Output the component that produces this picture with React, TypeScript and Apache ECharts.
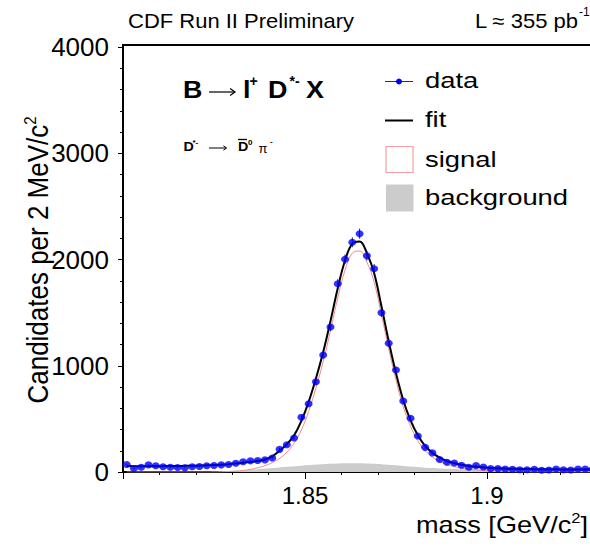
import React, { useEffect, useRef } from "react";
import * as echarts from "echarts";

const binCenters = [
  1.801, 1.803, 1.805, 1.807, 1.809, 1.811, 1.813, 1.815, 1.817, 1.819,
  1.821, 1.823, 1.825, 1.827, 1.829, 1.831, 1.833, 1.835, 1.837, 1.839,
  1.841, 1.843, 1.845, 1.847, 1.849, 1.851, 1.853, 1.855, 1.857, 1.859,
  1.861, 1.863, 1.865, 1.867, 1.869, 1.871, 1.873, 1.875, 1.877, 1.879,
  1.881, 1.883, 1.885, 1.887, 1.889, 1.891, 1.893, 1.895, 1.897, 1.899,
  1.901, 1.903, 1.905, 1.907, 1.909, 1.911, 1.913, 1.915, 1.917, 1.919,
  1.921, 1.923, 1.925, 1.927, 1.929,
];

const dataCounts = [
  70, 33, 45, 67, 58, 49, 45, 42, 39, 49,
  52, 58, 61, 67, 70, 83, 96, 105, 108, 114,
  131, 213, 256, 320, 515, 643, 850, 1101, 1365, 1772,
  2002, 2162, 2243, 2036, 1913, 1499, 1211, 960, 668, 505,
  339, 232, 180, 118, 91, 85, 63, 44, 60, 47,
  32, 32, 29, 26, 22, 22, 26, 16, 19, 29,
  22, 19, 29, 29, 25,
];

const fitValues = [
  56, 55, 55, 55, 55, 55, 56, 57, 58, 59,
  61, 63, 65, 69, 74, 80, 87, 95, 104, 118,
  148, 200, 262, 345, 480, 660, 880, 1130, 1420, 1730,
  1990, 2150, 2170, 2060, 1870, 1560, 1230, 930, 675, 485,
  345, 245, 180, 135, 104, 83, 68, 57, 49, 43,
  38, 35, 32, 30, 29, 28, 27, 26, 25, 25,
  24, 24, 24, 24, 24,
];

const signalValues = [
  0, 0, 0, 0, 0, 0, 0, 0, 0, 0,
  0, 0, 0, 1, 3, 7, 14, 25, 40, 60,
  88, 128, 185, 270, 395, 570, 790, 1040, 1330, 1640,
  1900, 2060, 2080, 1975, 1785, 1480, 1160, 865, 615, 430,
  295, 200, 140, 98, 70, 50, 36, 26, 19, 14,
  10, 7, 5, 3, 2, 1, 0, 0, 0, 0,
  0, 0, 0, 0, 0,
];

const backgroundValues = [
  0, 0, 0, 0, 0, 0, 0, 0, 0, 0,
  0, 0, 2, 5, 9, 13, 17, 22, 27, 32,
  37, 43, 49, 55, 60, 65, 70, 74, 77, 80,
  82, 83, 83, 81, 78, 74, 69, 63, 57, 51,
  46, 41, 37, 33, 30, 28, 26, 25, 24, 24,
  23, 23, 23, 23, 22, 22, 22, 22, 22, 22,
  22, 22, 22, 22, 22,
];

const xTickValues = [1.85, 1.9];
const xTickLabels = ["1.85", "1.9"];
const yTickLabels = ["0", "1000", "2000", "3000", "4000"];

const FONT = "'Liberation Sans', Arial, Helvetica, sans-serif";

function txt(
  text: string,
  x: number,
  y: number,
  fontSize: number,
  opts: { bold?: boolean; align?: string; scaleX?: number; family?: string } = {}
) {
  const align = opts.align || "left";
  return {
    type: "text",
    x,
    y,
    scaleX: opts.scaleX ?? 1,
    style: {
      text,
      fontSize,
      fontFamily: opts.family || FONT,
      fontWeight: opts.bold ? "bold" : "normal",
      fill: "#000",
      align,
      verticalAlign: "middle",
      textAlign: align,
      textVerticalAlign: "middle",
    },
    z: 20,
  };
}

function arrow(x1: number, x2: number, y: number, head: number, w: number) {
  return [
    { type: "line", shape: { x1, y1: y, x2, y2: y }, style: { stroke: "#000", lineWidth: w }, z: 20 },
    {
      type: "polyline",
      shape: { points: [[x2 - head * 1.4, y - head], [x2, y], [x2 - head * 1.4, y + head]] },
      style: { stroke: "#000", lineWidth: w, fill: "none" },
      z: 20,
    },
  ];
}

export default function App() {
  const ref = useRef<HTMLDivElement>(null);

  useEffect(() => {
    if (!ref.current) return;
    const chart = echarts.init(ref.current, undefined, { renderer: "svg" });

    const pts = (vals: number[]) => binCenters.map((x, i) => [x, vals[i]]);
    const errData = binCenters.map((x, i) => [x, dataCounts[i], Math.sqrt(dataCounts[i])]);

    const option: any = {
      animation: false,
      grid: {
        left: 123,
        top: 47,
        width: 546,
        height: 425,
        show: false,
        containLabel: false,
        outerBoundsMode: "none",
      },
      xAxis: {
        type: "value",
        min: 1.8,
        max: 1.95,
        interval: 0.05,
        axisLine: { show: true, onZero: false, lineStyle: { color: "#000", width: 2 } },
        axisTick: { show: true, inside: false, length: 7, lineStyle: { color: "#000", width: 1 } },
        minorTick: { show: true, splitNumber: 5, length: 3, lineStyle: { color: "#000", width: 1 } },
        splitLine: { show: false },
        minorSplitLine: { show: false },
        axisLabel: {
          formatter: (v: number) => {
            const i = xTickValues.findIndex((t) => Math.abs(t - v) < 1e-6);
            return i >= 0 ? xTickLabels[i] : "";
          },
          fontSize: 24,
          color: "#000",
          fontFamily: FONT,
          margin: 11,
        },
      },
      yAxis: {
        type: "value",
        min: 0,
        max: 4000,
        interval: 1000,
        axisLine: { show: true, onZero: false, lineStyle: { color: "#000", width: 2 } },
        axisTick: { show: true, inside: false, length: 5, lineStyle: { color: "#000", width: 1 } },
        minorTick: { show: true, splitNumber: 5, length: 3, lineStyle: { color: "#000", width: 1 } },
        splitLine: { show: false },
        minorSplitLine: { show: false },
        axisLabel: {
          formatter: (v: number) => (yTickLabels.includes(String(v)) ? String(v) : ""),
          fontSize: 26,
          color: "#000",
          fontFamily: FONT,
          margin: 14,
        },
      },
      series: [
        {
          name: "background",
          type: "line",
          data: pts(backgroundValues),
          smooth: 0.4,
          symbol: "none",
          lineStyle: { width: 0 },
          areaStyle: { color: "#cccccc", opacity: 1 },
          z: 1,
        },
        {
          name: "signal",
          type: "line",
          data: pts(signalValues),
          smooth: 0.4,
          symbol: "none",
          lineStyle: { color: "#f08a8a", width: 1 },
          z: 2,
        },
        {
          name: "fit",
          type: "line",
          data: pts(fitValues),
          smooth: 0.4,
          symbol: "none",
          lineStyle: { color: "#000", width: 2 },
          z: 3,
        },
        {
          name: "errors",
          type: "custom",
          data: errData,
          encode: { x: 0, y: 1 },
          renderItem: (_p: any, api: any) => {
            const x = api.value(0);
            const y = api.value(1);
            const e = api.value(2);
            const a = api.coord([x, y + e]);
            const b = api.coord([x, y - e]);
            return {
              type: "line",
              shape: { x1: a[0], y1: a[1], x2: b[0], y2: b[1] },
              style: { stroke: "#222", lineWidth: 1 },
            };
          },
          z: 4,
        },
        {
          name: "data",
          type: "scatter",
          data: pts(dataCounts),
          symbol: "circle",
          symbolSize: [8, 7],
          itemStyle: { color: "#0000ff" },
          z: 5,
        },
      ],
      graphic: [
        // frame top
        { type: "line", shape: { x1: 122, y1: 45, x2: 590, y2: 45 }, style: { stroke: "#000", lineWidth: 2 }, z: 10 },
        { type: "line", shape: { x1: 123, y1: 44, x2: 123, y2: 48 }, style: { stroke: "#000", lineWidth: 2 }, z: 10 },
        // header
        txt("CDF Run II Preliminary", 128, 21, 20, { scaleX: 1.1 }),
        txt("L ≈ 355 pb", 578, 21, 20, { scaleX: 1.1, align: "right" }),
        txt("-1", 579, 12, 12),
        // decay title
        txt("B", 183, 90, 24, { bold: true, scaleX: 1.12 }),
        ...arrow(209, 235, 92, 3.5, 1.2),
        txt("l", 243, 90, 24, { bold: true, scaleX: 1.12 }),
        txt("+", 249.5, 81, 14, { bold: true }),
        txt("D", 268, 90, 24, { bold: true, scaleX: 1.12 }),
        txt("*-", 289.5, 81, 14, { bold: true }),
        txt("X", 306, 90, 24, { bold: true, scaleX: 1.12 }),
        // small decay
        txt("D", 183.5, 147, 13, { bold: true, scaleX: 1.1 }),
        txt("*-", 192.5, 142, 8, { bold: true }),
        ...arrow(209, 226.5, 148, 2.2, 1),
        txt("D", 238, 147, 13, { bold: true, scaleX: 1.1 }),
        { type: "line", shape: { x1: 238, y1: 139.5, x2: 247, y2: 139.5 }, style: { stroke: "#000", lineWidth: 1.3 }, z: 20 },
        txt("0", 248, 142, 8, { bold: true }),
        txt("π", 258.5, 148, 13),
        txt("-", 270, 141, 8, { bold: true }),
        // legend
        { type: "line", shape: { x1: 385, y1: 81.5, x2: 413, y2: 81.5 }, style: { stroke: "#333", lineWidth: 1 } },
        { type: "circle", shape: { cx: 399, cy: 81.5, r: 3 }, style: { fill: "#0000ff" } },
        txt("data", 425, 80, 22, { scaleX: 1.245 }),
        { type: "line", shape: { x1: 385, y1: 120.5, x2: 413, y2: 120.5 }, style: { stroke: "#000", lineWidth: 2 } },
        txt("fit", 425, 119, 22, { scaleX: 1.245 }),
        { type: "rect", shape: { x: 386, y: 146.5, width: 27, height: 26 }, style: { fill: "#fff", stroke: "#f2a2a2", lineWidth: 1.2 } },
        txt("signal", 425, 159, 22, { scaleX: 1.245 }),
        { type: "rect", shape: { x: 386, y: 184.5, width: 27.5, height: 27 }, style: { fill: "#cccccc" } },
        txt("background", 425, 197, 22, { scaleX: 1.245 }),
        // axis titles
        {
          type: "text", x: 588, y: 525, scaleX: 1.18,
          style: {
            text: "{n|mass [GeV/c}{s|2}{n|]}",
            fontFamily: FONT, fill: "#000", align: "right", verticalAlign: "middle", textAlign: "right", textVerticalAlign: "middle",
            rich: {
              n: { fontSize: 23, fontFamily: FONT, fill: "#000", lineHeight: 28 },
              s: { fontSize: 14, fontFamily: FONT, fill: "#000", verticalAlign: "top", lineHeight: 14 },
            },
          },
        },
        {
          type: "text", x: 38, y: 260, rotation: Math.PI / 2, scaleY: 1.14,
          style: {
            text: "{n|Candidates per 2 MeV/c}{s|2}",
            fontFamily: FONT, fill: "#000", align: "center", verticalAlign: "middle", textAlign: "center", textVerticalAlign: "middle",
            rich: {
              n: { fontSize: 26, fontFamily: FONT, fill: "#000", lineHeight: 30 },
              s: { fontSize: 15, fontFamily: FONT, fill: "#000", verticalAlign: "top", lineHeight: 15 },
            },
          },
        },
      ],
    };

    chart.setOption(option);
    return () => chart.dispose();
  }, []);

  return (
    <div
      ref={ref}
      style={{ position: "fixed", left: 0, top: 0, width: 590, height: 547, background: "#fff" }}
    />
  );
}
